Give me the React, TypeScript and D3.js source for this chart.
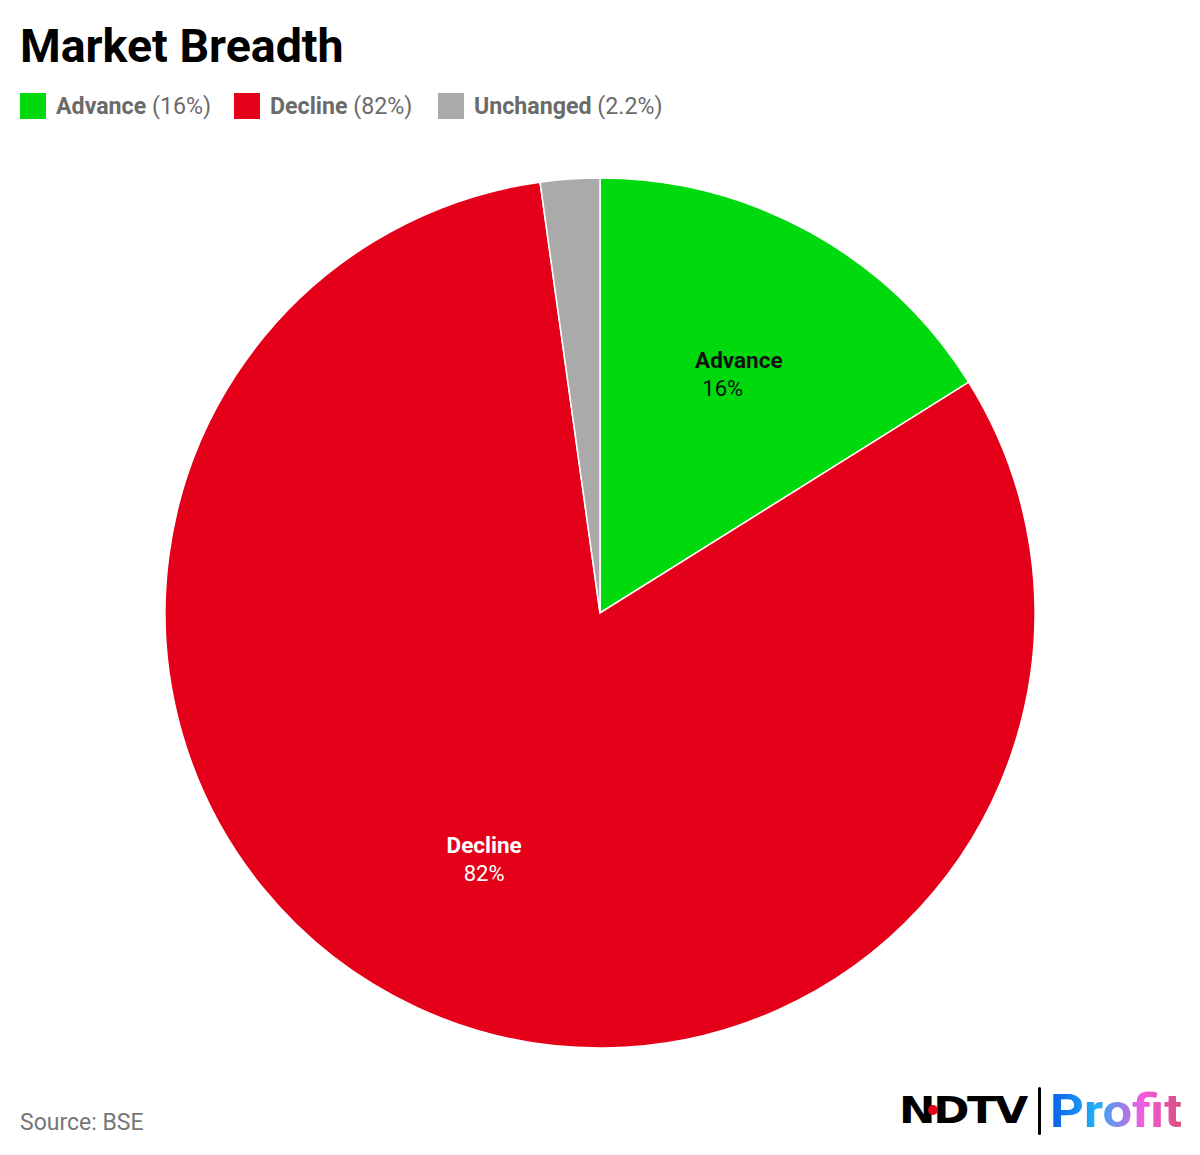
import React from 'react';
import * as d3 from 'd3';

const categories = ['Advance', 'Decline', 'Unchanged'];
const values = [16.1, 81.7, 2.2];
const shareLabels = ['16%', '82%', '2.2%'];
const colors = ['#00d90d', '#e5001a', '#aaaaaa'];
const labelColors = ['#111111', '#ffffff', '#111111'];

const W = 1200;
const H = 1155;
const font = 'Roboto, "Noto Sans", sans-serif';

const App: React.FC = () => {
  const cx = 600;
  const cy = 613;
  const radius = 435;

  const pie = d3.pie<number>().sort(null).value(d => d);
  const arcs = pie(values);
  const arc = d3.arc<d3.PieArcDatum<number>>().innerRadius(0).outerRadius(radius);
  const labelArc = d3.arc<d3.PieArcDatum<number>>().innerRadius(radius * 0.63).outerRadius(radius * 0.63);

  // legend starts
  const legendX = [20, 234, 438];

  return (
    <svg width={W} height={H} style={{ display: 'block', position: 'absolute', left: 0, top: 0 }} fontFamily={font}>
      <defs>
        <linearGradient id="profitGrad" x1="0" x2="1" y1="0" y2="0">
          <stop offset="0%" stopColor="#0a5de8" />
          <stop offset="35%" stopColor="#22b0f7" />
          <stop offset="70%" stopColor="#f55ae0" />
          <stop offset="100%" stopColor="#d94f7c" />
        </linearGradient>
      </defs>
      <rect width={W} height={H} fill="#ffffff" />
      <text x={20} y={62} fontSize={46.5} fontWeight={700} fill="#000">Market Breadth</text>

      {categories.map((c, i) => (
        <g key={c} transform={`translate(${legendX[i]},93)`}>
          <rect width={26} height={26} fill={colors[i]} />
          <text x={36} y={21} fontSize={23.2} fill="#6b6b6b">
            <tspan fontWeight={700}>{c}</tspan>
            <tspan> ({shareLabels[i]})</tspan>
          </text>
        </g>
      ))}

      <g transform={`translate(${cx},${cy})`}>
        {arcs.map((a, i) => (
          <path key={categories[i]} d={arc(a) || ''} fill={colors[i]} stroke="#ffffff" strokeWidth={1.5} />
        ))}
        {arcs.slice(0, 2).map((a, i) => {
          const [x, y] = labelArc.centroid(a);
          return (
            <g key={categories[i]} transform={`translate(${x + (i === 0 ? 6 : 0)},${y + (i === 1 ? -3 : 0)})`} fill={labelColors[i]} textAnchor="middle">
              <text y={-5} fontSize={22.5} fontWeight={700}>{categories[i]}</text>
              <text x={i === 0 ? -16 : 0} y={23} fontSize={22}>{shareLabels[i]}</text>
            </g>
          );
        })}
      </g>

      <text x={20} y={1130} fontSize={23} fill="#777">Source: BSE</text>

      <g>
        <text x={899} y={1123} fontSize={38} fontWeight={900} fill="#000" fontFamily="'DejaVu Sans', sans-serif" letterSpacing={-2} textLength={127} lengthAdjust="spacingAndGlyphs">NDTV</text>
        <circle cx={933} cy={1110} r={5} fill="#e5001a" />
        <rect x={1038} y={1087} width={3} height={48} fill="#000" rx={1.5} />
        <text x={1050} y={1127} fontSize={46} fontWeight={700} fill="url(#profitGrad)" textLength={132} lengthAdjust="spacingAndGlyphs">Profit</text>
      </g>
    </svg>
  );
};

export default App;
